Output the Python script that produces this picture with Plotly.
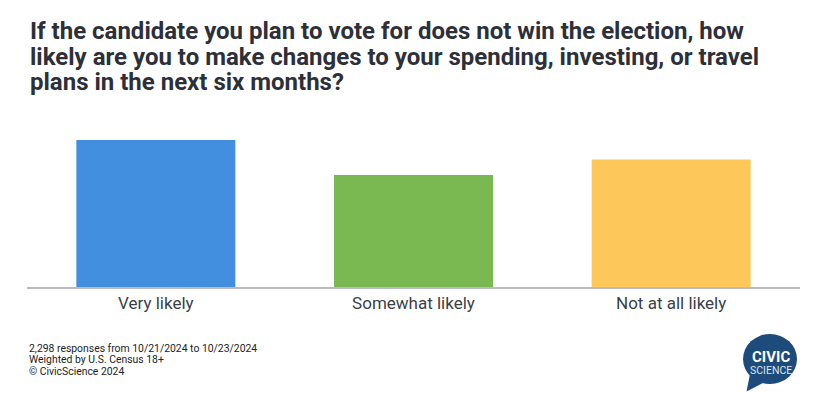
import plotly.graph_objects as go

# Data
categories = ['Very likely', 'Somewhat likely', 'Not at all likely']
values = [38, 29, 33]
bar_colors = ['#418fde', '#7ab951', '#fec75a']

title_lines = [
    'If the candidate you plan to vote for does not win the election, how',
    'likely are you to make changes to your spending, investing, or travel',
    'plans in the next six months?',
]
footer_lines = [
    '2,298 responses from 10/21/2024 to 10/23/2024',
    'Weighted by U.S. Census 18+',
    '© CivicScience 2024',
]

# page body has an 8px margin, so the figure sits at (8, 8)
OFF = 8
W, H = 817 - OFF, 402 - OFF
ML, MR, MT, MB = 19, 17, 112, 115
PW, PH = W - ML - MR, H - MT - MB


def px_x(x):
    # screen pixel x -> paper x
    return (x - OFF - ML) / PW


def px_y(y):
    # screen pixel y (from top) -> paper y
    return (H - MB - (y - OFF)) / PH


fig = go.Figure(go.Bar(
    x=categories,
    y=values,
    marker_color=bar_colors,
    marker_line_width=0,
    hoverinfo='x+y',
))

fig.update_layout(
    width=W, height=H,
    margin=dict(l=ML, r=MR, t=MT, b=MB),
    paper_bgcolor='white',
    plot_bgcolor='white',
    bargap=0.383,
    showlegend=False,
    font=dict(family='Roboto', color='#3a3f47'),
)

fig.update_xaxes(
    showline=True, linecolor='#b8bbbf', linewidth=1.5,
    showgrid=False, ticks='', tickfont=dict(size=17, color='#3a3f47'),
    fixedrange=True,
)
fig.update_yaxes(
    range=[0, 43.2], visible=False, showgrid=False, zeroline=False,
    fixedrange=True,
)

# Title, one annotation per line for tight line spacing
for i, line in enumerate(title_lines):
    fig.add_annotation(
        text=line, xref='paper', yref='paper',
        x=px_x(28), y=px_y(31 + i * 25.5),
        xanchor='left', yanchor='middle', showarrow=False,
        font=dict(family='Roboto', size=24, color='#2d3038', weight='bold'),
    )

# Footer notes
for i, line in enumerate(footer_lines):
    fig.add_annotation(
        text=line, xref='paper', yref='paper',
        x=px_x(27), y=px_y(348 + i * 11.7),
        xanchor='left', yanchor='middle', showarrow=False,
        font=dict(family='Roboto', size=10.4, color='#222222'),
    )

# CivicScience logo (speech bubble)
cx, cy, rx, ry = 770, 359, 27, 25
logo_blue = '#1d4b7c'
fig.add_shape(
    type='circle', xref='paper', yref='paper',
    x0=px_x(cx - rx), x1=px_x(cx + rx), y0=px_y(cy + ry), y1=px_y(cy - ry),
    fillcolor=logo_blue, line_width=0, layer='above',
)
tail = [(750, 374), (746.5, 391.5), (763, 383)]
fig.add_shape(
    type='path', xref='paper', yref='paper',
    path='M ' + ' L '.join(f'{px_x(x):.5f},{px_y(y):.5f}' for x, y in tail) + ' Z',
    fillcolor=logo_blue, line_width=0, layer='above',
)
fig.add_annotation(
    text='<b>CIVIC</b>', xref='paper', yref='paper', x=px_x(771), y=px_y(356.5),
    xanchor='center', yanchor='middle', showarrow=False,
    font=dict(family='Roboto', size=15, color='white'),
)
fig.add_annotation(
    text='SCIENCE', xref='paper', yref='paper', x=px_x(771), y=px_y(370.5),
    xanchor='center', yanchor='middle', showarrow=False,
    font=dict(family='Roboto', size=10.5, color='#dde4ee'),
)

fig.write_html('out.html')
